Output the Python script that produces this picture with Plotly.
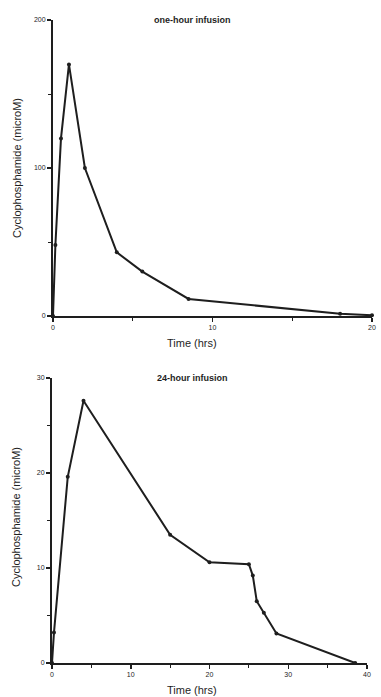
import plotly.graph_objects as go

W, H = 381, 697

# One-hour infusion
t1 = [0, 0.15, 0.5, 1.0, 2.0, 4.0, 5.6, 8.5, 18.0, 20.0]
c1 = [0, 48, 120, 170, 100, 43, 30, 11.5, 1.5, 0.5]

# 24-hour infusion
t2 = [0, 0.25, 2.0, 4.0, 15.0, 20.0, 25.0, 25.5, 26.0, 26.9, 28.5, 38.5]
c2 = [0, 3.2, 19.6, 27.6, 13.5, 10.6, 10.4, 9.2, 6.5, 5.3, 3.1, 0]

title1 = "one-hour infusion"
title2 = "24-hour infusion"
xlab = "Time (hrs)"
ylab = "Cyclophosphamide (microM)"

x1_ticks = [0, 10, 20]
y1_ticks = [0, 100, 200]
x2_ticks = [0, 10, 20, 30, 40]
y2_ticks = [0, 10, 20, 30]

INK = "#1e1e1e"
FONT = "Liberation Sans, Arial, sans-serif"

def px(x):
    return x / W

def py(y):
    return 1 - y / H

fig = go.Figure()
fig.add_trace(go.Scatter(x=t1, y=c1, mode="lines+markers", xaxis="x", yaxis="y",
                         line=dict(color=INK, width=2), marker=dict(color=INK, size=4),
                         cliponaxis=False, showlegend=False, hoverinfo="skip"))
fig.add_trace(go.Scatter(x=t2, y=c2, mode="lines+markers", xaxis="x2", yaxis="y2",
                         line=dict(color=INK, width=2), marker=dict(color=INK, size=4),
                         cliponaxis=False, showlegend=False, hoverinfo="skip"))

def axis(domain, rng, ticks, anchor, minor):
    return dict(domain=domain, range=rng, tickvals=ticks, ticktext=[str(t) for t in ticks],
                anchor=anchor, showgrid=False, zeroline=False, showline=True,
                linecolor=INK, linewidth=2, ticks="outside", ticklen=4, tickwidth=1.5,
                tickcolor=INK, tickfont=dict(size=7, color=INK, family=FONT),
                minor=dict(dtick=minor, ticks="outside", ticklen=3, tickcolor=INK, tickwidth=1,
                           showgrid=False),
                fixedrange=True)

fig.update_layout(
    template="none",
    width=W, height=H,
    margin=dict(l=0, r=0, t=0, b=0),
    paper_bgcolor="white", plot_bgcolor="white",
    font=dict(family=FONT, color=INK),
    xaxis=axis([px(53), px(372)], [0, 20], x1_ticks, "y", 5),
    yaxis=axis([py(316), py(20)], [0, 200], y1_ticks, "x", 50),
    xaxis2=axis([px(52), px(367)], [0, 40], x2_ticks, "y2", 5),
    yaxis2=axis([py(663), py(378)], [0, 30], y2_ticks, "x2", 5),
)

def ann(text, x, y, size, bold=False, angle=0):
    fig.add_annotation(text=f"<b>{text}</b>" if bold else text, x=px(x), y=py(y),
                       xref="paper", yref="paper", showarrow=False, textangle=angle,
                       xanchor="center", yanchor="middle",
                       font=dict(size=size, color=INK, family=FONT))

ann(title1, 192, 20, 9, bold=True)
ann(title2, 192, 378, 9, bold=True)
ann(xlab, 192, 343, 11)
ann(xlab, 192, 690, 11)
ann(ylab, 17, 168, 11, angle=-90)
ann(ylab, 16, 517, 11, angle=-90)

fig.write_html("out.html", config={"displayModeBar": False, "staticPlot": True},
               post_script="document.body.style.margin='0';document.body.style.padding='0';document.body.style.overflow='hidden';")
